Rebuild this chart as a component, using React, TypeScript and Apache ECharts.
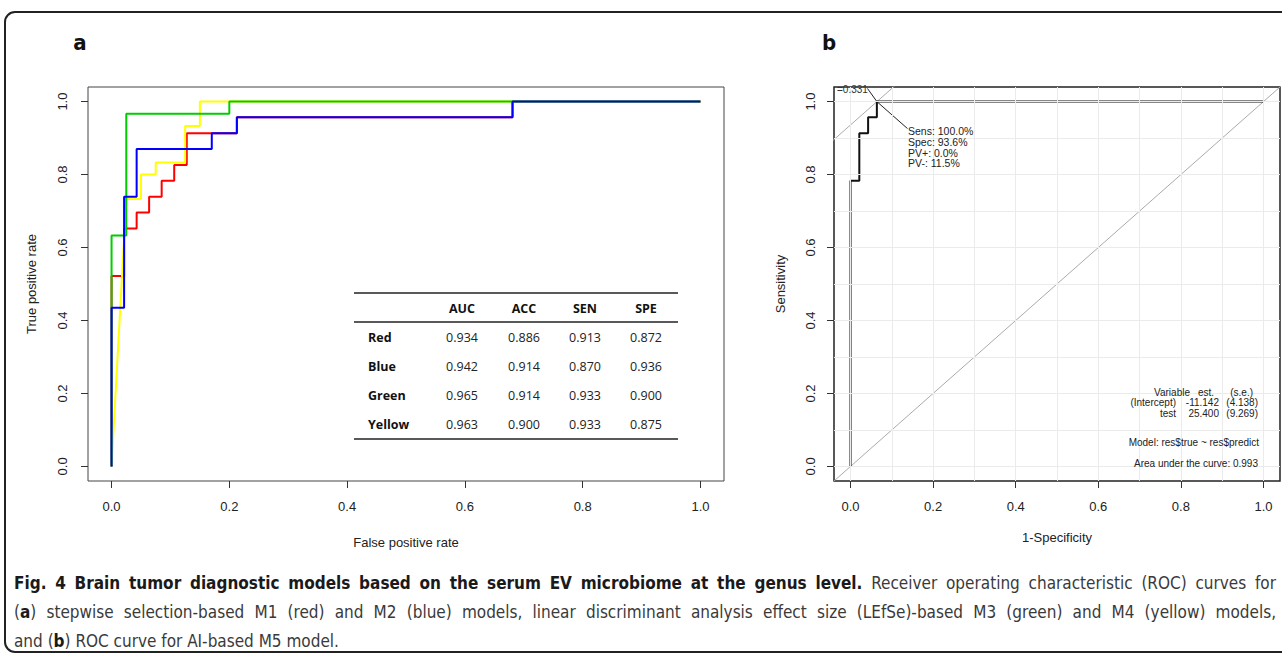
import React, { useEffect, useRef } from 'react';
import * as echarts from 'echarts';

// ---------- data ----------
const axisTicks = [0, 0.2, 0.4, 0.6, 0.8, 1.0];
const gridVals = [0, 0.1, 0.2, 0.3, 0.4, 0.5, 0.6, 0.7, 0.8, 0.9, 1.0];

// Panel a: ROC curve vertices (false positive rate, true positive rate)
const redFpr = [0, 0, 0.0213, 0.0213, 0.0426, 0.0426, 0.0638, 0.0638, 0.0851, 0.0851, 0.1064, 0.1064, 0.1277, 0.1277, 0.2128, 0.2128, 0.6809, 0.6809, 1];
const redTpr = [0, 0.522, 0.522, 0.652, 0.652, 0.696, 0.696, 0.739, 0.739, 0.783, 0.783, 0.826, 0.826, 0.913, 0.913, 0.957, 0.957, 1, 1];
const blueFpr = [0, 0, 0.0213, 0.0213, 0.0426, 0.0426, 0.1702, 0.1702, 0.2128, 0.2128, 0.6809, 0.6809, 1];
const blueTpr = [0, 0.435, 0.435, 0.739, 0.739, 0.870, 0.870, 0.913, 0.913, 0.957, 0.957, 1, 1];
const greenFpr = [0, 0, 0.025, 0.025, 0.2, 0.2, 1];
const greenTpr = [0, 0.633, 0.633, 0.967, 0.967, 1, 1];
const yellowFpr = [0, 0.025, 0.05, 0.05, 0.075, 0.075, 0.125, 0.125, 0.15, 0.15, 1];
const yellowTpr = [0, 0.733, 0.733, 0.8, 0.8, 0.833, 0.833, 0.933, 0.933, 1, 1];

// Panel a: table
const tableModels = ['Red', 'Blue', 'Green', 'Yellow'];
const tableCols = ['AUC', 'ACC', 'SEN', 'SPE'];
const aucVals = ['0.934', '0.942', '0.965', '0.963'];
const accVals = ['0.886', '0.914', '0.914', '0.900'];
const senVals = ['0.913', '0.870', '0.933', '0.933'];
const speVals = ['0.872', '0.936', '0.900', '0.875'];

// Panel b: ROC curve (1-specificity, sensitivity)
const m5Fpr = [0, 0, 0.0213, 0.0213, 0.0426, 0.0426, 0.0638, 0.0638, 1];
const m5Tpr = [0, 0.783, 0.783, 0.913, 0.913, 0.957, 0.957, 1, 1];
const bestPoint = [0.0638, 1.0];
const bestSpec = 0.936;
const sensLabelAnchor = [0.138, 0.926];
const thresLabelAnchor = [0.041, 1.036];
const thresText = '=0.331';
const bestTexts = ['Sens: 100.0%', 'Spec: 93.6%', 'PV+: 0.0%', 'PV-: 11.5%'];
const modelRows = [
  ['Variable', 'est.', '(s.e.)'],
  ['(Intercept)', '-11.142', '(4.138)'],
  ['test', '25.400', '(9.269)'],
];
const modelFormula = 'Model: res$true ~ res$predict';
const aucText = 'Area under the curve: 0.993';

// caption runs: [text, bold]
const captionLines: [string, boolean][][] = [
  [['Fig. 4 Brain tumor diagnostic models based on the serum EV microbiome at the genus level.', true], [' Receiver operating characteristic (ROC) curves for', false]],
  [['(', false], ['a', true], [') stepwise selection-based M1 (red) and M2 (blue) models, linear discriminant analysis effect size (LEfSe)-based M3 (green) and M4 (yellow) models,', false]],
  [['and (', false], ['b', true], [') ROC curve for AI-based M5 model.', false]],
];
const captionJustify = [true, true, false];

const zip = (a: number[], b: number[]) => a.map((v, i) => [v, b[i]]);

const R_FONT = 'Liberation Sans, Arial, sans-serif';
const CAP_FONT = '"DejaVu Sans Condensed", "Liberation Sans Narrow", sans-serif';
const CAP_SIZE = 17;
const TAB_FONT = '"Open Sans", "Noto Sans", sans-serif';

function makeAxis(gridIndex: number, name: string, isY: boolean, nameGap: number, margin: number) {
  return {
    type: 'value',
    gridIndex,
    min: -0.04,
    max: 1.04,
    axisLine: { show: false, onZero: false },
    splitLine: { show: false },
    axisTick: { show: true, customValues: axisTicks, length: 7, lineStyle: { color: '#333', width: 1 } },
    axisLabel: {
      customValues: axisTicks,
      formatter: (v: number) => v.toFixed(1),
      margin,
      fontSize: 13,
      color: '#222',
      fontFamily: R_FONT,
      rotate: isY ? 90 : 0,
    },
    name,
    nameLocation: 'middle',
    nameGap,
    nameTextStyle: { fontSize: 13, color: '#222', fontFamily: R_FONT },
  };
}

function buildCaption(): any[] {
  const canvas = document.createElement('canvas');
  const ctx = canvas.getContext('2d')!;
  const fontOf = (b: boolean) => `${b ? 'bold ' : ''}${CAP_SIZE}px ${CAP_FONT}`;
  const measure = (t: string, b: boolean) => { ctx.font = fontOf(b); return ctx.measureText(t).width; };
  const out: any[] = [];
  const x0 = 14, x1 = 1276;
  captionLines.forEach((runs, li) => {
    const tokens: [string, boolean][][] = [];
    let cur: [string, boolean][] = [];
    runs.forEach(([text, b]) => {
      const parts = text.split(' ');
      parts.forEach((p, i) => {
        if (i > 0) { if (cur.length) tokens.push(cur); cur = []; }
        if (p.length) cur.push([p, b]);
      });
    });
    if (cur.length) tokens.push(cur);
    const widths = tokens.map((tk) => tk.reduce((s, [t, b]) => s + measure(t, b), 0));
    const total = widths.reduce((a, b) => a + b, 0);
    const gap = captionJustify[li] ? (x1 - x0 - total) / (tokens.length - 1) : measure(' ', false);
    let x = x0;
    const y = 583 + li * 29;
    tokens.forEach((tk, i) => {
      const text = tk.map(([t, b]) => `{${b ? 'b' : 'n'}|${t}}`).join('');
      out.push({
        type: 'text', x, y, z: 100,
        style: {
          text, align: 'left', verticalAlign: 'middle',
          rich: {
            b: { fontWeight: 'bold', fontSize: CAP_SIZE, fontFamily: CAP_FONT, fill: '#1a1a1a' },
            n: { fontSize: CAP_SIZE, fontFamily: CAP_FONT, fill: '#3a3a3a' },
          },
        },
      });
      x += widths[i] + gap;
    });
  });
  return out;
}

export default function App() {
  const ref = useRef<HTMLDivElement>(null);
  useEffect(() => {
    if (!ref.current) return;
    const chart = echarts.init(ref.current, undefined, { renderer: 'svg' });

    // table graphics
    const tX0 = 354, tX1 = 678;
    const colX = [462, 524, 585, 646];
    const rowY = [337, 366, 395, 424];
    const tableG: any[] = [
      { type: 'line', z: 100, shape: { x1: tX0, y1: 293, x2: tX1, y2: 293 }, style: { stroke: '#222', lineWidth: 1.5 } },
      { type: 'line', z: 100, shape: { x1: tX0, y1: 322, x2: tX1, y2: 322 }, style: { stroke: '#222', lineWidth: 1.5 } },
      { type: 'line', z: 100, shape: { x1: tX0, y1: 439, x2: tX1, y2: 439 }, style: { stroke: '#222', lineWidth: 1.5 } },
    ];
    tableCols.forEach((c, i) => tableG.push({ type: 'text', z: 100, x: colX[i], y: 308, style: { text: c, fontSize: 12.5, fontWeight: 'bold', fontFamily: TAB_FONT, fill: '#111', align: 'center', verticalAlign: 'middle' } }));
    const cols = [aucVals, accVals, senVals, speVals];
    tableModels.forEach((m, r) => {
      tableG.push({ type: 'text', z: 100, x: 368, y: rowY[r], style: { text: m, fontSize: 12.5, fontWeight: 'bold', fontFamily: TAB_FONT, fill: '#111', align: 'left', verticalAlign: 'middle' } });
      cols.forEach((col, c) => tableG.push({ type: 'text', z: 100, x: colX[c], y: rowY[r], style: { text: col[r], fontSize: 12.5, fontFamily: TAB_FONT, fill: '#222', align: 'center', verticalAlign: 'middle' } }));
    });

    // panel b annotations
    const annG: any[] = [];
    annG.push({ type: 'text', z: 100, x: 837, y: 89, style: { text: thresText, fontSize: 10, fontFamily: R_FONT, fill: '#333', align: 'left', verticalAlign: 'middle' } });
    bestTexts.forEach((t, i) => annG.push({ type: 'text', z: 100, x: 908, y: 131 + i * 10.8, style: { text: t, fontSize: 10.5, fontFamily: R_FONT, fill: '#222', align: 'left', verticalAlign: 'middle' } }));
    const mRights = [[1190, 1214, 1253], [1176, 1219, 1258], [1176, 1219, 1258]];
    modelRows.forEach((row, r) => row.forEach((t, c) => annG.push({ type: 'text', z: 100, x: mRights[r][c], y: 392 + r * 10.5, style: { text: t, fontSize: 10, fontFamily: R_FONT, fill: '#222', align: 'right', verticalAlign: 'middle' } })));
    annG.push({ type: 'text', z: 100, x: 1259, y: 442, style: { text: modelFormula, fontSize: 10, fontFamily: R_FONT, fill: '#222', align: 'right', verticalAlign: 'middle' } });
    annG.push({ type: 'text', z: 100, x: 1258, y: 463, style: { text: aucText, fontSize: 10, fontFamily: R_FONT, fill: '#222', align: 'right', verticalAlign: 'middle' } });

    const option: any = {
      animation: false,
      backgroundColor: '#fff',
      grid: [
        { left: 88, top: 87, width: 636, height: 394, show: true, borderColor: '#444', borderWidth: 1, backgroundColor: 'transparent' },
        { left: 834, top: 87, width: 446, height: 394, show: true, borderColor: '#222', borderWidth: 1.5, backgroundColor: 'transparent' },
      ],
      xAxis: [
        makeAxis(0, 'False positive rate', false, 55, 19),
        makeAxis(1, '1-Specificity', false, 50, 19),
      ],
      yAxis: [
        makeAxis(0, 'True positive rate', true, 50, 19),
        makeAxis(1, 'Sensitivity', true, 47, 17),
      ],
      series: [
        { type: 'line', xAxisIndex: 0, yAxisIndex: 0, data: zip(redFpr, redTpr), showSymbol: false, lineStyle: { color: '#ff0000', width: 2 }, z: 2 },
        { type: 'line', xAxisIndex: 0, yAxisIndex: 0, data: zip(yellowFpr, yellowTpr), showSymbol: false, lineStyle: { color: '#ffff00', width: 2 }, z: 3 },
        { type: 'line', xAxisIndex: 0, yAxisIndex: 0, data: zip(greenFpr, greenTpr), showSymbol: false, lineStyle: { color: '#00cd00', width: 2 }, z: 4 },
        { type: 'line', xAxisIndex: 0, yAxisIndex: 0, data: zip(blueFpr, blueTpr), showSymbol: false, lineStyle: { color: '#0000ff', width: 2 }, z: 5 },
        {
          type: 'line', xAxisIndex: 1, yAxisIndex: 1, data: [], z: 1,
          markLine: {
            silent: true, symbol: ['none', 'none'], label: { show: false },
            lineStyle: { color: '#ebebeb', width: 1, type: 'solid' },
            data: [...gridVals.map((v) => ({ xAxis: v })), ...gridVals.map((v) => ({ yAxis: v }))],
          },
        },
        { type: 'line', xAxisIndex: 1, yAxisIndex: 1, data: [[-0.2, -0.2], [1.2, 1.2]], showSymbol: false, lineStyle: { color: '#aaaaaa', width: 1 }, z: 2, clip: true },
        { type: 'line', xAxisIndex: 1, yAxisIndex: 1, data: [[-0.2, bestSpec - 0.2], [0.3, bestSpec + 0.3]], showSymbol: false, lineStyle: { color: '#aaaaaa', width: 1 }, z: 2, clip: true },
        { type: 'line', xAxisIndex: 1, yAxisIndex: 1, data: [bestPoint, sensLabelAnchor], showSymbol: false, lineStyle: { color: '#222', width: 1 }, z: 3 },
        { type: 'line', xAxisIndex: 1, yAxisIndex: 1, data: [thresLabelAnchor, bestPoint], showSymbol: false, lineStyle: { color: '#222', width: 1 }, z: 3 },
        { type: 'line', xAxisIndex: 1, yAxisIndex: 1, data: zip(m5Fpr, m5Tpr), showSymbol: false, lineStyle: { color: '#111', width: 2 }, z: 4 },
      ],
      graphic: [
        { type: 'rect', z: 100, shape: { x: 5, y: 12, width: 1300, height: 640, r: 10 }, style: { fill: 'none', stroke: '#222', lineWidth: 2 } },
        { type: 'text', z: 100, x: 80, y: 42, style: { text: 'a', fontSize: 22, fontWeight: 'bold', fontFamily: CAP_FONT, fill: '#111', align: 'center', verticalAlign: 'middle' } },
        { type: 'text', z: 100, x: 829, y: 42, style: { text: 'b', fontSize: 22, fontWeight: 'bold', fontFamily: CAP_FONT, fill: '#111', align: 'center', verticalAlign: 'middle' } },
        ...tableG,
        ...annG,
        ...buildCaption(),
      ],
    };
    chart.setOption(option);
    return () => chart.dispose();
  }, []);
  return <div ref={ref} style={{ position: 'fixed', left: 0, top: 0, width: 1282, height: 655, background: '#fff' }} />;
}
